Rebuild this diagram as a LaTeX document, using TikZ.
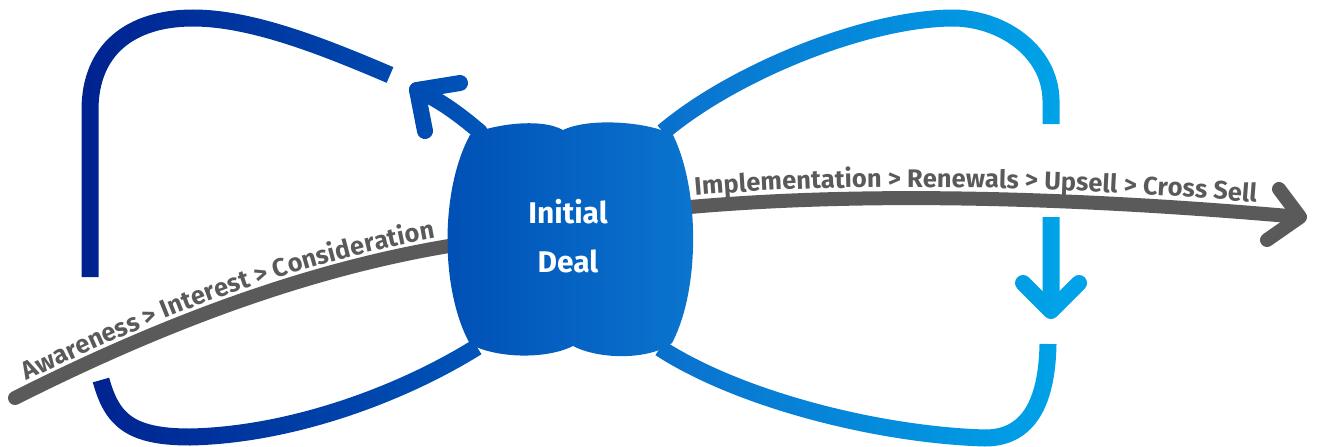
\documentclass[tikz,border=0pt]{standalone}
\usepackage{fontspec}
\setmainfont{Fira Sans}
\usetikzlibrary{fadings,decorations.text}
\definecolor{bA}{HTML}{00228F}
\definecolor{bB}{HTML}{0050B5}
\definecolor{bC}{HTML}{0A74CF}
\definecolor{bD}{HTML}{00A2E8}
\definecolor{lgrey}{HTML}{5A5A5A}
\pgfdeclarehorizontalshading{bluegrad}{100bp}{color(0bp)=(bA); color(28bp)=(bA); color(42bp)=(bB); color(51bp)=(bC); color(65bp)=(bD); color(100bp)=(bD)}
\tikzset{
  bluestroke/.style={draw=white, line width=17bp},
  headstroke/.style={draw=white, line width=16bp, line cap=round, line join=round},
  greystroke/.style={draw=lgrey, line width=14bp},
  greyhead/.style={draw=lgrey, line width=14bp, line cap=round, line join=round},
  dealtext/.style={text=white, font=\bfseries\fontsize{30}{36}\selectfont, inner sep=0pt, anchor=base},
}
\begin{tikzfadingfrompicture}[name=bluefade, x=1bp, y=-1bp]
  \path (0,0) rectangle (1320,447);
  % named points
  \coordinate (tlS) at (390,75);
  \coordinate (tlE) at (90,277);
  \coordinate (blS) at (101,380);
  \coordinate (blE) at (477,347);
  \coordinate (trS) at (663,132);
  \coordinate (trE) at (1051,124);
  \coordinate (brS) at (660,348);
  \coordinate (brE) at (1048,344);
  \coordinate (upFrom) at (480,132);
  \coordinate (upTip) at (417,90);
  \coordinate (upA) at (460,83);
  \coordinate (upB) at (425,131);
  \coordinate (dnFrom) at (1051,217);
  \coordinate (dnTip) at (1051,311);
  \coordinate (dnA) at (1023,283);
  \coordinate (dnB) at (1079,283);
  % blob
  \fill[white] (470,135) .. controls (490,125) and (540,117) .. (563,130)
    .. controls (590,117) and (650,122) .. (673,135)
    .. controls (700,190) and (700,290) .. (672,343)
    .. controls (650,360) and (600,360) .. (573,346)
    .. controls (545,360) and (495,358) .. (470,344)
    .. controls (440,290) and (440,190) .. (470,135) -- cycle;
  % loops
  \path[bluestroke] (tlS) .. controls (320,45) and (250,18) .. (193,18)
    .. controls (130,18) and (90,50) .. (90,110) -- (tlE);
  \path[bluestroke] (blS) .. controls (112,420) and (130,437) .. (190,437)
    .. controls (290,435) and (400,395) .. (blE);
  \path[bluestroke] (trS) .. controls (730,75) and (860,20) .. (950,18)
    .. controls (1000,17) and (1050,50) .. (1051,100) -- (trE);
  \path[bluestroke] (brS) .. controls (740,400) and (880,435) .. (985,438)
    .. controls (1030,438) and (1047,400) .. (brE);
  % arrows
  \path[headstroke] (upFrom) .. controls (460,115) and (440,100) .. (upTip);
  \path[headstroke] (upA) -- (upTip) -- (upB);
  \path[bluestroke] (dnFrom) -- (1051,300);
  \path[headstroke] (dnA) -- (dnTip) -- (dnB);
\end{tikzfadingfrompicture}
\begin{document}
\begin{tikzpicture}[x=1bp, y=-1bp]
  \useasboundingbox (0,0) rectangle (1320,447);
  \coordinate (gL0) at (15,398);
  \coordinate (gL1) at (455,245);
  \coordinate (gR0) at (690,207);
  \coordinate (gR1) at (1300,217);
  \coordinate (gRa) at (1279,189);
  \coordinate (gRb) at (1267,240);
  % grey arrows
  \path[greystroke, line cap=round] (gL0) .. controls (150,330) and (300,270) .. (gL1);
  \path[decorate, decoration={text along path, text align=center, raise=10bp,
     text={|\bfseries\fontsize{25.5}{25.5}\selectfont\color{lgrey}|Awareness > Interest > Consideration}}]
     (gL0) .. controls (150,330) and (300,270) .. (gL1);
  \path[greystroke] (gR0) .. controls (850,193) and (1050,195) .. (gR1);
  \path[greyhead] (gRa) -- (gR1) -- (gRb);
  \path[decorate, decoration={text along path, text align=left, text align={left indent=6bp}, raise=11bp,
     text={|\bfseries\fontsize{25.5}{25.5}\selectfont\color{lgrey}|Implementation > Renewals > Upsell > Cross Sell}}]
     (gR0) .. controls (850,193) and (1050,195) .. (gR1);
  % blue shapes
  \shade[shading=bluegrad, path fading=bluefade, fit fading=false,
         fading transform={shift={(660,223.5)}}] (0,0) rectangle (1320,447);
  % labels
  \node[dealtext] (init) at (568,224) {Initial};
  \node[dealtext] (deal) at (568,273) {Deal};
\end{tikzpicture}
\end{document}
